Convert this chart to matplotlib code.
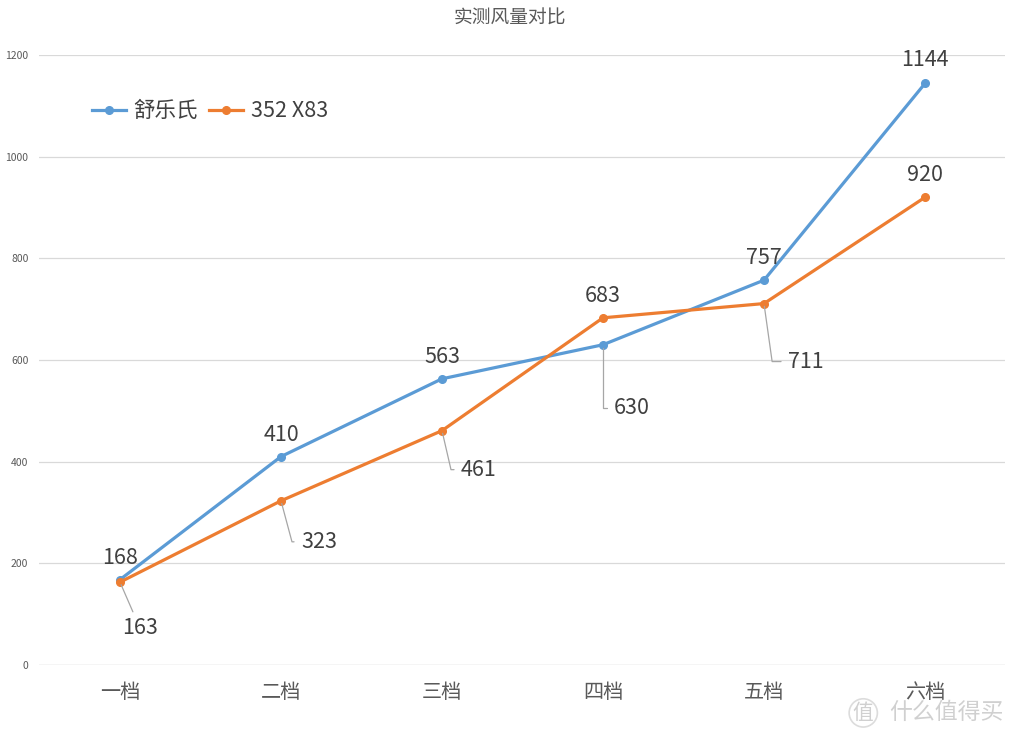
import matplotlib
matplotlib.use("Agg")
import matplotlib.pyplot as plt

plt.rcParams['font.family'] = ['Noto Sans CJK SC', 'DejaVu Sans']

# 数据
gears = ['一档', '二档', '三档', '四档', '五档', '六档']
shulez = [168, 410, 563, 630, 757, 1144]
x83 = [163, 323, 461, 683, 711, 920]
yticks = [0, 200, 400, 600, 800, 1000, 1200]

blue = '#5b9bd5'
orange = '#ed7d31'
txt = '#404040'

fig = plt.figure(figsize=(10.18, 7.38), dpi=100)
ax = fig.add_axes([0.0388, 0.0989, 0.9489, 0.8266])

x = list(range(len(gears)))
ax.plot(x, shulez, color=blue, lw=2.3, marker='o', ms=5.5, label='舒乐氏', zorder=3)
ax.plot(x, x83, color=orange, lw=2.3, marker='o', ms=5.5, label='352 X83', zorder=3)

ax.set_xlim(-0.5, 5.5)
ax.set_ylim(0, 1200)
ax.set_yticks(yticks)
ax.set_yticklabels([str(v) for v in yticks], fontsize=7.5, color='#595959')
ax.set_xticks(x)
ax.set_xticklabels(gears, fontsize=14.5, color='#595959')
ax.tick_params(axis='both', length=0)
ax.tick_params(axis='y', pad=8)
ax.tick_params(axis='x', pad=12.5)
ax.grid(axis='y', color='#d9d9d9', lw=0.9)
ax.set_axisbelow(True)
for s in ax.spines.values():
    s.set_visible(False)
ax.axhline(0, color='#d9d9d9', lw=0.9, zorder=1)

# 数据标签: (dx, dy, 引线)
blue_off = [(0, 22, None), (0, 22, None), (0, 22, None), (11, -63, 90), (0, 22, None), (0, 23, None)]
orange_off = [(20, -46, 'arc'), (20, -41, -75), (19, -39, -77), (0, 22, None), (24, -58, -82), (0, 22, None)]

def add_labels(vals, offs):
    for i, (v, (dx, dy, lead)) in enumerate(zip(vals, offs)):
        if lead is None:
            ax.annotate(str(v), (i, v), xytext=(dx, dy), textcoords='offset pixels',
                        ha='center', va='center', fontsize=15.5, color=txt)
        elif lead == 'arc':
            ax.annotate(str(v), (i, v), xytext=(dx, dy), textcoords='offset pixels',
                        ha='center', va='center', fontsize=15.5, color=txt,
                        arrowprops=dict(arrowstyle='-', color='#a6a6a6', lw=0.9,
                                        shrinkA=2, shrinkB=2))
        else:
            ax.annotate(str(v), (i, v), xytext=(dx, dy), textcoords='offset pixels',
                        ha='left', va='center', fontsize=15.5, color=txt,
                        arrowprops=dict(arrowstyle='-', color='#a6a6a6', lw=0.9,
                                        shrinkA=3, shrinkB=2,
                                        connectionstyle='angle,angleA=0,angleB=%d,rad=0' % lead))

add_labels(shulez, blue_off)
add_labels(x83, orange_off)

fig.text(0.501, 0.975, '实测风量对比', ha='center', va='center', fontsize=13.5, color='#595959')

leg = ax.legend(loc='center left', bbox_to_anchor=(0.071, 0.849), bbox_transform=fig.transFigure,
                ncol=2, frameon=False, fontsize=15.5, handlelength=1.6, handletextpad=0.35,
                columnspacing=0.5)
for t in leg.get_texts():
    t.set_color(txt)

# 水印
fig.text(0.848, 0.034, '值', ha='center', va='center', fontsize=15, color='#d0d0d0',
         bbox=dict(boxstyle='circle,pad=0.15', fc='none', ec='#dcdcdc', lw=1.2))
fig.text(0.873, 0.034, '什么值得买', ha='left', va='center', fontsize=16.5, color='#d0d0d0')

fig.savefig('out.png', dpi=100)
